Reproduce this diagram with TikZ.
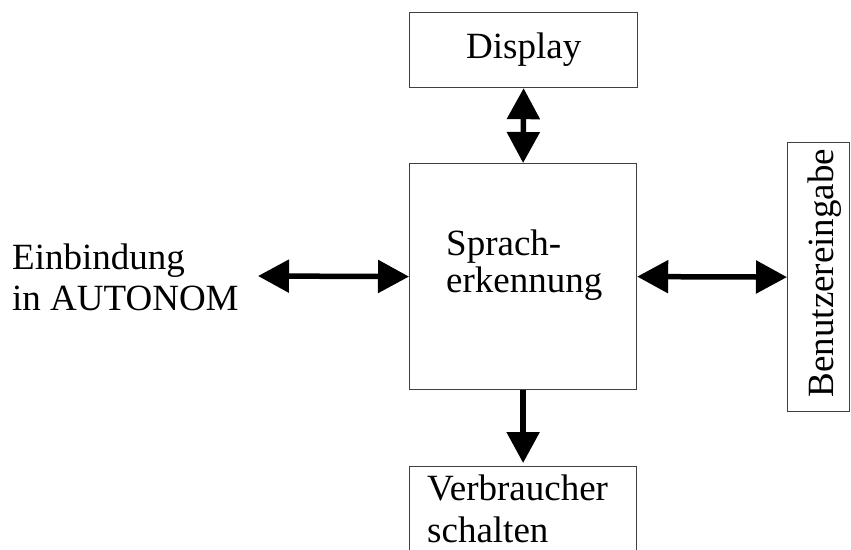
\documentclass[tikz,border=0pt]{standalone}
\usepackage{fontspec}
\setmainfont{Liberation Serif}
\usetikzlibrary{arrows.meta}

\begin{document}
\begin{tikzpicture}[x=1pt, y=-1pt, >={Triangle[length=31pt, width=32pt]},
    box/.style={draw=black!75, line width=1.2pt, inner sep=0pt, anchor=north west},
    link/.style={line width=5.5pt},
    lbl/.style={font=\fontsize{37}{41}\selectfont, inner sep=0pt, align=left}]
    \clip (0,0) rectangle (851,549);

    % Boxes
    \node[box, minimum width=228pt, minimum height=75pt] (display) at (409,12) {};
    \node[box, minimum width=227pt, minimum height=226pt] (sprach) at (409,163) {};
    \node[box, minimum width=227pt, minimum height=110pt] (verbr) at (409,466) {};
    \node[box, minimum width=62pt, minimum height=269pt] (user) at (787,142) {};
    \coordinate (autonom) at (258,276);

    % Texts (base = last line)
    \node[lbl, anchor=base west] (displaytxt) at (466,58) {Display};
    \node[lbl, anchor=base west, font=\fontsize{37}{37}\selectfont] (sprachtxt) at (446,292) {Sprach-\\erkennung};
    \node[lbl, anchor=base west, font=\fontsize{37}{42}\selectfont] (verbrtxt) at (427,542) {Verbraucher\\schalten};
    \node[lbl, anchor=base west] (autonomtxt) at (12,310) {Einbindung\\in AUTONOM};
    \node[lbl, anchor=base, rotate=90] (usertxt) at (833,273) {Benutzereingabe};

    % Arrows
    \draw[link, <->] (display.south) -- (sprach.north);
    \draw[link, ->] (sprach.south) -- ([yshift=3pt]verbr.north);
    \draw[link, <->] (autonom) -- (sprach.west);
    \draw[link, <->] (sprach.east) -- (user.west);
\end{tikzpicture}
\end{document}
